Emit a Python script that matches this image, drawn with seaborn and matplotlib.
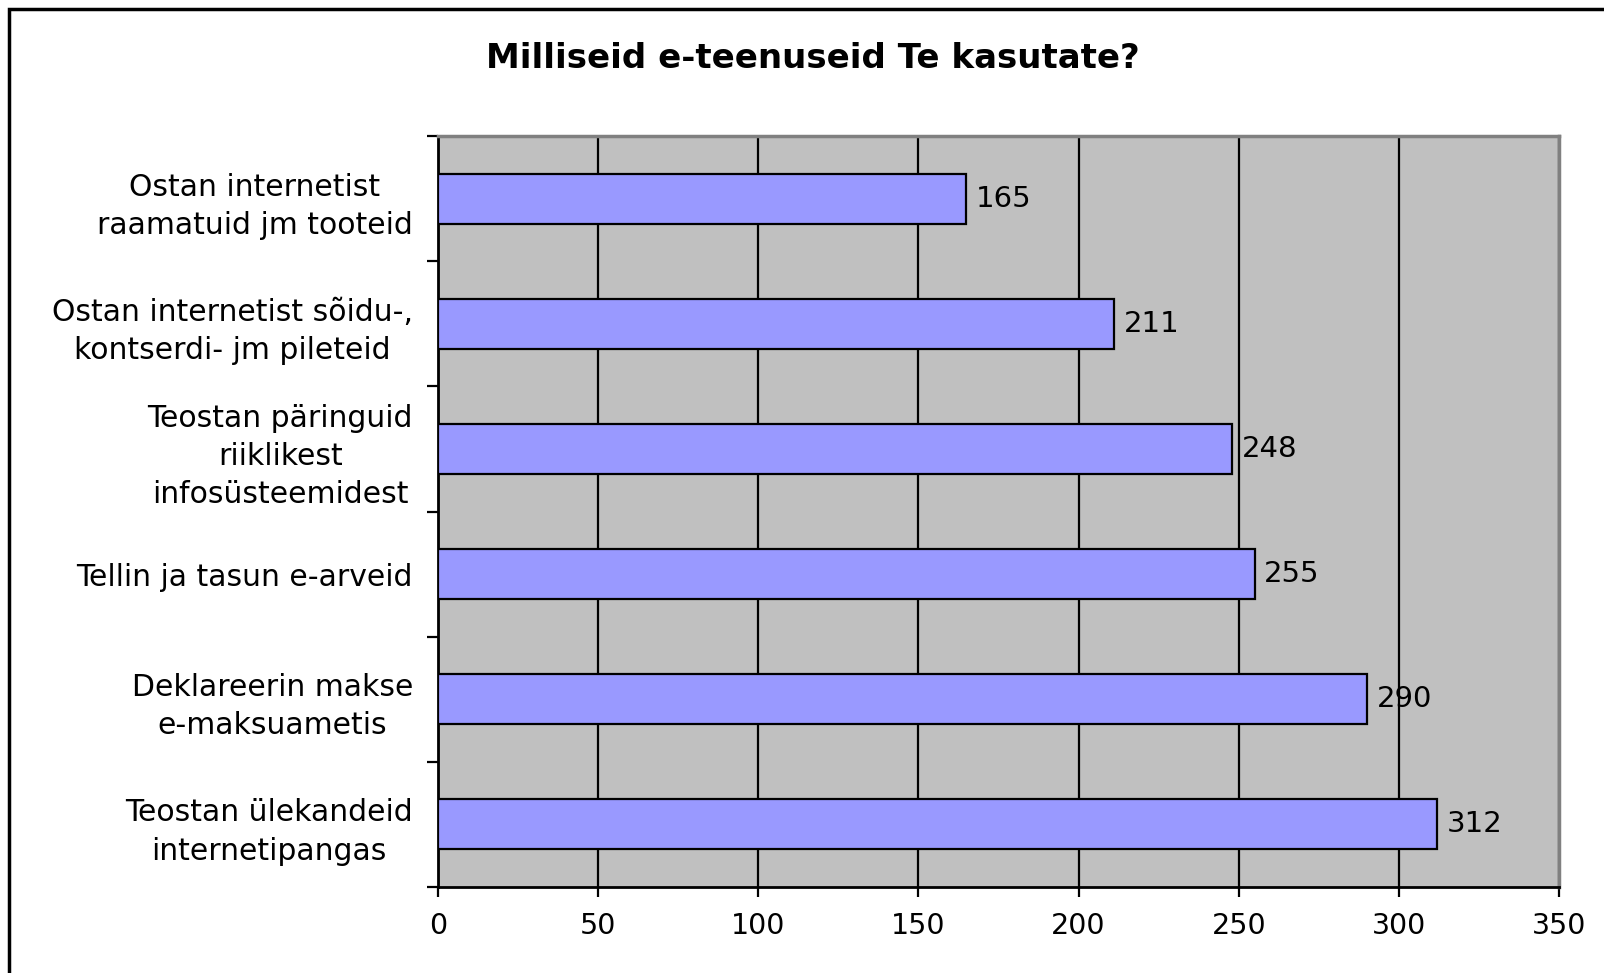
import pandas as pd
import seaborn as sns
import matplotlib.pyplot as plt
from matplotlib.patches import Rectangle

# Chart data
categories = [
    'Ostan internetist\nraamatuid jm tooteid',
    'Ostan internetist sõidu-,\nkontserdi- jm pileteid',
    'Teostan päringuid\nriiklikest\ninfosüsteemidest',
    'Tellin ja tasun e-arveid',
    'Deklareerin makse\ne-maksuametis',
    'Teostan ülekandeid\ninternetipangas',
]
counts = [165, 211, 248, 255, 290, 312]
x_ticks = [0, 50, 100, 150, 200, 250, 300, 350]

data = pd.DataFrame({'category': categories, 'count': counts})

sns.set_style('white')
plt.rcParams['font.family'] = ['DejaVu Sans']
plt.rcParams['text.color'] = 'black'
plt.rcParams['xtick.color'] = 'black'
plt.rcParams['ytick.color'] = 'black'

fig = plt.figure(figsize=(16.04, 9.73), dpi=100)
ax = fig.add_axes([438 / 1604, 1 - 887 / 973, (1559 - 438) / 1604, (887 - 136) / 973])

sns.barplot(data=data, x='count', y='category', orient='h', color='#9999FF',
            saturation=1, width=0.4, edgecolor='black', linewidth=1.6, ax=ax, zorder=3)

ax.set_facecolor('#C0C0C0')
ax.set_xlim(0, 350)
ax.set_ylim(len(categories) - 0.5, -0.5)
ax.set_xticks(x_ticks)
ax.set_xticklabels([str(t) for t in x_ticks], fontsize=20.5)
ax.xaxis.grid(True, color='black', linewidth=1.6, zorder=0)
ax.set_axisbelow(True)
ax.tick_params(axis='x', direction='out', length=7, width=1.6, color='black', pad=11, bottom=True)

# category labels, ticks between categories
ax.set_yticks(range(len(categories)))
ax.set_yticklabels(categories, fontsize=21.5, ha='right', multialignment='center',
                   linespacing=1.4)
ax.tick_params(axis='y', which='major', length=0, pad=18, left=True)
ax.set_yticks([i - 0.5 for i in range(len(categories) + 1)], minor=True)
ax.tick_params(axis='y', which='minor', direction='out', length=8, width=1.6, color='black', left=True)

ax.set_xlabel('')
ax.set_ylabel('')

for side in ['left', 'bottom']:
    ax.spines[side].set_color('black')
    ax.spines[side].set_linewidth(2)
for side in ['top', 'right']:
    ax.spines[side].set_color('#808080')
    ax.spines[side].set_linewidth(2.5)

# value labels
for i, v in enumerate(counts):
    ax.text(v + 3, i, str(v), va='center', ha='left', fontsize=21, zorder=4)

fig.text(813 / 1604, 1 - 58 / 973, 'Milliseid e-teenuseid Te kasutate?',
         ha='center', va='center', fontsize=24.5, fontweight='bold')

# outer chart frame
fig.patches.append(Rectangle((9 / 1604, -0.1), 1.2, 1 - 9 / 973 + 0.1,
                             transform=fig.transFigure, fill=False,
                             edgecolor='black', linewidth=2.5))

fig.savefig('out.png', dpi=100)
